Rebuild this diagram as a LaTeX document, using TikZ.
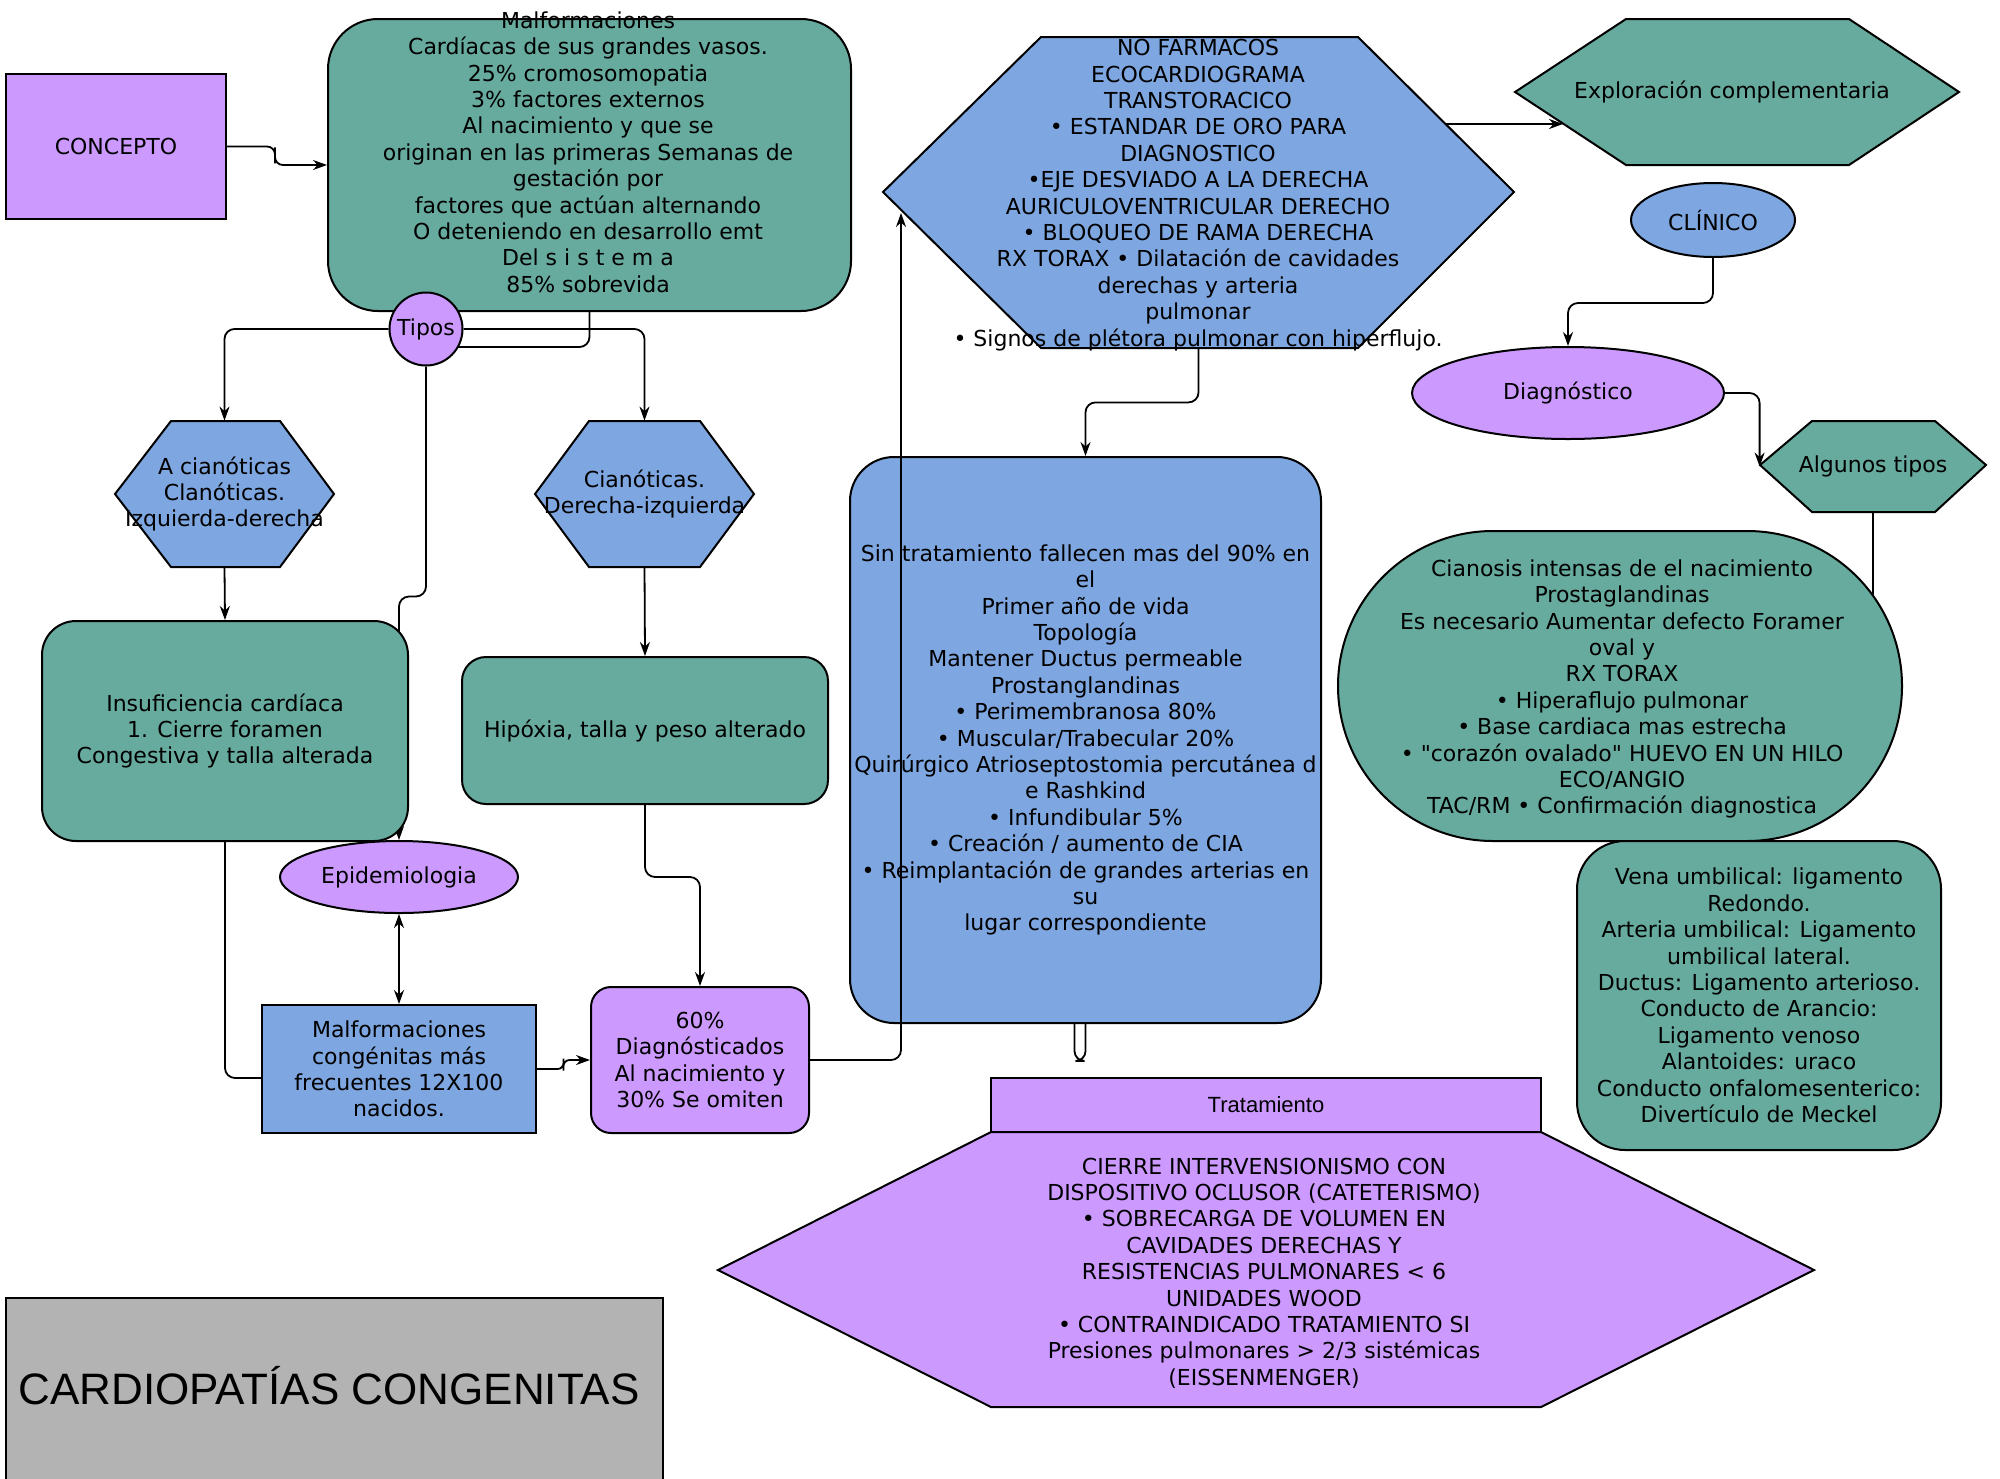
\documentclass[tikz,border=0pt]{standalone}
\usepackage{fontspec}
\setmainfont{DejaVu Sans}[Ligatures=TeXOff]
\newfontfamily\arialf{Liberation Sans}
\usetikzlibrary{arrows.meta,calc,shapes.geometric}
\pgfdeclarelayer{bg}
\pgfsetlayers{bg,main}
\definecolor{cpurple}{HTML}{CC99FF}
\definecolor{cteal}{HTML}{67AB9F}
\definecolor{cblue}{HTML}{7EA6E0}
\definecolor{cgray}{HTML}{B3B3B3}
\tikzset{
  lbl/.style={font=\fontsize{11}{13.2}\selectfont, align=center, inner sep=0pt},
  shp/.style={draw=black, line width=1pt, inner sep=0pt, lbl},
  polyline/.style={draw=black, line width=1pt},
  conn/.style={draw=black, line width=0.9pt, rounded corners=5pt},
  arr/.style={conn, -{Stealth[length=7pt,width=5pt]}},
  dbl/.style={conn, {Stealth[length=7pt,width=5pt]}-{Stealth[length=7pt,width=5pt]}},
}
\begin{document}
\begin{tikzpicture}[x=0.5pt, y=-0.5pt]
\useasboundingbox (0,0) rectangle (2000,1478);

% title
\filldraw[fill=cgray, polyline] (6,1298) rectangle (663,1495);
\node[lbl, anchor=west, font=\arialf\fontsize{22}{26}\selectfont] (title) at (18,1386) {CARDIOPATÍAS CONGENITAS};

% concepto
\node[shp, fill=cpurple, minimum width=110pt, minimum height=72.5pt] (conc) at (116,146.5) {CONCEPTO};

% malformaciones
\node[shp, fill=cteal, rounded corners=25pt, minimum width=261.5pt, minimum height=146pt] (malf) at (589.5,165) {};
\node[lbl] (malft) at (588,152) {Malformaciones\\Cardíacas de sus grandes vasos.\\25\% cromosomopatia\\3\% factores externos\\Al nacimiento y que se\\originan en las primeras Semanas de\\gestación por\\factores que actúan alternando\\O deteniendo en desarrollo emt\\Del s i s t e m a\\85\% sobrevida};

% hexagons types
\filldraw[fill=cblue, polyline] (115,494) -- (171,421) -- (280,421) -- (334,494) -- (280,567) -- (171,567) -- cycle;
\node[lbl, minimum width=109.5pt, minimum height=73pt] (acian) at (224.5,494) {A cianóticas\\Clanóticas.\\Izquierda-derecha};
\filldraw[fill=cblue, polyline] (535,494) -- (589,421) -- (700,421) -- (754,494) -- (700,567) -- (589,567) -- cycle;
\node[lbl, minimum width=109.5pt, minimum height=73pt] (cian) at (644.5,494) {Cianóticas.\\Derecha-izquierda};

% tipos
\node[shp, fill=cpurple, circle, minimum size=36.5pt] (tipos) at (426,329) {Tipos};

% epidemiologia
\node[shp, fill=cpurple, ellipse, minimum width=119pt, minimum height=36pt] (epi) at (399,877) {Epidemiologia};

% bg edges
\begin{pgfonlayer}{bg}
\draw[conn] (malf.south) |- ($(tipos.center)+(0,18)$);
\draw[arr] (tipos.west) -| (acian.north);
\draw[arr] (tipos.east) -| (cian.north);
\draw[arr] (tipos.south) -- ($(tipos.south)+(0,230)$) -| (epi.north);
\end{pgfonlayer}

\node[shp, fill=cteal, rounded corners=17pt, minimum width=183pt, minimum height=110pt] (insuf) at (225,731) {Insuficiencia cardíaca\\1. Cierre foramen\\Congestiva y talla alterada};
\node[shp, fill=cteal, rounded corners=12pt, minimum width=183pt, minimum height=73.5pt] (hip) at (645,730.5) {Hipóxia, talla y peso alterado};
\node[shp, fill=cblue, minimum width=137pt, minimum height=64pt] (mcong) at (399,1069) {Malformaciones\\congénitas más\\frecuentes 12X100\\nacidos.};
\node[shp, fill=cpurple, rounded corners=10pt, minimum width=109pt, minimum height=73pt] (p60) at (700,1060) {60\%\\Diagnósticados\\Al nacimiento y\\30\% Se omiten};

% NO FARMACOS hexagon
\filldraw[fill=cblue, polyline] (883,192) -- (1041,37) -- (1358,37) -- (1514,192) -- (1358,348) -- (1041,348) -- cycle;
\node[lbl, minimum width=315.5pt, minimum height=155.5pt] (nof) at (1198.5,192.5) {};
\node[lbl] (noft) at (1198,195) {NO FARMACOS\\ECOCARDIOGRAMA\\TRANSTORACICO\\• ESTANDAR DE ORO PARA\\DIAGNOSTICO\\•EJE DESVIADO A LA DERECHA\\AURICULOVENTRICULAR DERECHO\\• BLOQUEO DE RAMA DERECHA\\RX TORAX • Dilatación de cavidades\\derechas y arteria\\pulmonar\\• Signos de plétora pulmonar con hiperflujo.};

% exploracion
\filldraw[fill=cteal, polyline] (1515,92) -- (1626,19) -- (1849,19) -- (1959,92) -- (1849,165) -- (1626,165) -- cycle;
\node[lbl, minimum width=222pt, minimum height=73pt] (explo) at (1732,92) {Exploración complementaria};

% sin tratamiento
\node[shp, fill=cblue, rounded corners=22pt, minimum width=235.5pt, minimum height=283pt] (sin) at (1085.5,740) {Sin tratamiento fallecen mas del 90\% en\\el\\Primer año de vida\\Topología\\Mantener Ductus permeable\\Prostanglandinas\\• Perimembranosa 80\%\\• Muscular/Trabecular 20\%\\Quirúrgico Atrioseptostomia percutánea d\\e Rashkind\\• Infundibular 5\%\\• Creación / aumento de CIA\\• Reimplantación de grandes arterias en\\su\\lugar correspondiente};

% clinico, diagnostico
\node[shp, fill=cblue, ellipse, minimum width=82pt, minimum height=37pt] (clin) at (1713,220) {CLÍNICO};
\node[shp, fill=cpurple, ellipse, minimum width=156pt, minimum height=46pt] (diag) at (1568,393) {Diagnóstico};

% algunos tipos
\filldraw[fill=cteal, polyline] (1760,465) -- (1812,421) -- (1935,421) -- (1986,465) -- (1935,512) -- (1812,512) -- cycle;
\node[lbl, minimum width=113pt, minimum height=45.5pt] (alg) at (1873,466.5) {Algunos tipos};

% cianosis stadium
\begin{pgfonlayer}{bg}
\draw[conn] (alg.south) -- ++(0,150);
\end{pgfonlayer}
\node[shp, fill=cteal, rounded corners=77.5pt, minimum width=282pt, minimum height=155pt] (cyel) at (1620,686) {};
\node[lbl] (cyelt) at (1622,689) {Cianosis intensas de el nacimiento\\Prostaglandinas\\Es necesario Aumentar defecto Foramer\\oval y\\RX TORAX\\• Hiperaflujo pulmonar\\• Base cardiaca mas estrecha\\• "corazón ovalado" HUEVO EN UN HILO\\ECO/ANGIO\\TAC/RM • Confirmación diagnostica};

% vena umbilical
\node[shp, fill=cteal, rounded corners=24pt, minimum width=182pt, minimum height=154.5pt] (vena) at (1759,995.5) {Vena umbilical: ligamento\\Redondo.\\Arteria umbilical: Ligamento\\umbilical lateral.\\Ductus: Ligamento arterioso.\\Conducto de Arancio:\\Ligamento venoso\\Alantoides: uraco\\Conducto onfalomesenterico:\\Divertículo de Meckel};

% tratamiento
\filldraw[fill=cpurple, polyline] (718,1270) -- (991,1132) -- (1541,1132) -- (1814,1270) -- (1541,1407) -- (991,1407) -- cycle;
\node[lbl] (trath) at (1264,1273) {CIERRE INTERVENSIONISMO CON\\DISPOSITIVO OCLUSOR (CATETERISMO)\\• SOBRECARGA DE VOLUMEN EN\\CAVIDADES DERECHAS Y\\RESISTENCIAS PULMONARES < 6\\UNIDADES WOOD\\• CONTRAINDICADO TRATAMIENTO SI\\Presiones pulmonares > 2/3 sistémicas\\(EISSENMENGER)};
\node[shp, fill=cpurple, minimum width=275pt, minimum height=27pt, font=\arialf\fontsize{11}{13.2}\selectfont] (trat) at (1266,1105) {Tratamiento};

% connectors
\draw[arr, rounded corners=4pt] (conc.east) -| ($(conc.east)!0.48!(malf.west)$) |- (malf.west);
\draw[arr] (acian.south) -- (insuf.north);
\draw[arr] (cian.south) -- (hip.north);
\draw[arr] (hip.south) -- ++(0,72) -| (p60.north);
\draw[dbl] (epi.south) -- (mcong.north);
\draw[conn] (insuf.south) |- ($(mcong.west)+(0,9)$);
\draw[arr, rounded corners=3pt] (mcong.east) -| ($(mcong.east)!0.5!(p60.west)$) |- (p60.west);
\coordinate (nofin) at (901,213);
\draw[arr] (p60.east) -| (nofin);
\coordinate (nofout) at (1446,124);
\coordinate (exin) at (1563,124);
\draw[arr] (nofout) -- (exin);
\draw[arr] (nof.south) -- ++(0,54) -| (sin.north);
\draw[conn] ($(sin.south)+(-11,0)$) -- ++(0,37) -- ++(11,0) -- (sin.south);
\draw[arr] (clin.south) -- ++(0,45) -| (diag.north);
\draw[arr] (diag.east) -| (alg.west);
\end{tikzpicture}
\end{document}
